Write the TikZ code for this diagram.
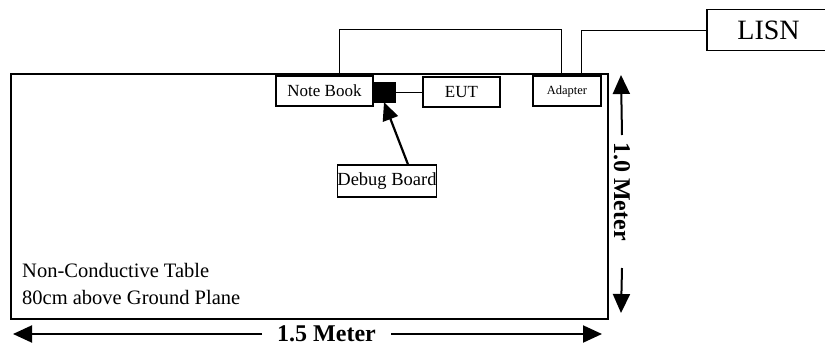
\documentclass[tikz,border=0pt]{standalone}
\usepackage{fontspec}
\setmainfont{Liberation Serif}
\usetikzlibrary{arrows.meta}
\tikzset{
    box/.style={draw, line width=1.1pt, inner sep=0, minimum height=30pt},
    wire/.style={line width=1pt},
    dim/.style={line width=2pt, -{Triangle[length=19pt,width=17pt]}},
    dimlabel/.style={font=\fontsize{24}{28}\selectfont\bfseries, inner sep=0}
}
\begin{document}
\begin{tikzpicture}[x=1pt,y=-1pt]
    \useasboundingbox (0,0) rectangle (825,348);
    % table and its label
    \node[draw, line width=2pt, inner sep=0, minimum width=597pt, minimum height=245pt] (table) at (309.5,196.5) {};
    \node[anchor=west, inner sep=0, font=\fontsize{20.5}{24}\selectfont] (tabA) at (22,270) {Non-Conductive Table};
    \node[anchor=west, inner sep=0, font=\fontsize{20.5}{24}\selectfont] (tabB) at (22,297) {80cm above Ground Plane};

    % equipment on the table
    \node[box, minimum width=97pt, font=\fontsize{17}{20}\selectfont] (nb) at (324.5,91) {Note Book};
    \node[draw, fill=black, inner sep=0, minimum width=22pt, minimum height=20pt] (sq) at (384,92) {};
    \node[box, minimum width=77pt, font=\fontsize{17}{20}\selectfont] (eut) at (461.5,92) {EUT};
    \node[box, minimum width=68pt, font=\fontsize{12.5}{15}\selectfont] (adp) at (567,91) {Adapter};
    \node[box, minimum width=123pt, minimum height=41pt, font=\fontsize{28}{32}\selectfont] (lisn) at (768.5,30) {LISN};
    \node[box, minimum width=98pt, minimum height=32pt, font=\fontsize{18.5}{22}\selectfont] (dbg) at (387,181) {Debug Board};

    % cables
    \draw[wire] ([xshift=14.5pt]nb.north) -- ++(0,-46) -| ([xshift=-6pt]adp.north);
    \draw[wire] ([xshift=14pt]adp.north) |- (lisn.west);
    \draw[wire] (sq.east) -- (eut.west);
    \draw[line width=2.2pt, -{Triangle[length=18pt,width=16pt]}] ([xshift=21pt]dbg.north) -- (sq.south);

    % dimensions
    \coordinate (h1) at (13,334);
    \coordinate (h2) at (602,334);
    \node[dimlabel, inner xsep=15pt] (hlab) at (326.5,334) {1.5 Meter};
    \draw[dim] (hlab) -- (h1);
    \draw[dim] (hlab) -- (h2);
    \coordinate (v1) at (621,75);
    \coordinate (v2) at (621,313);
    \node[dimlabel, rotate=-90] (vlab) at (622,191.5) {1.0 Meter};
    \draw[dim] ([yshift=7pt]vlab.west) -- (v1);
    \draw[dim] ([yshift=-27pt]vlab.east) -- (v2);
\end{tikzpicture}
\end{document}
